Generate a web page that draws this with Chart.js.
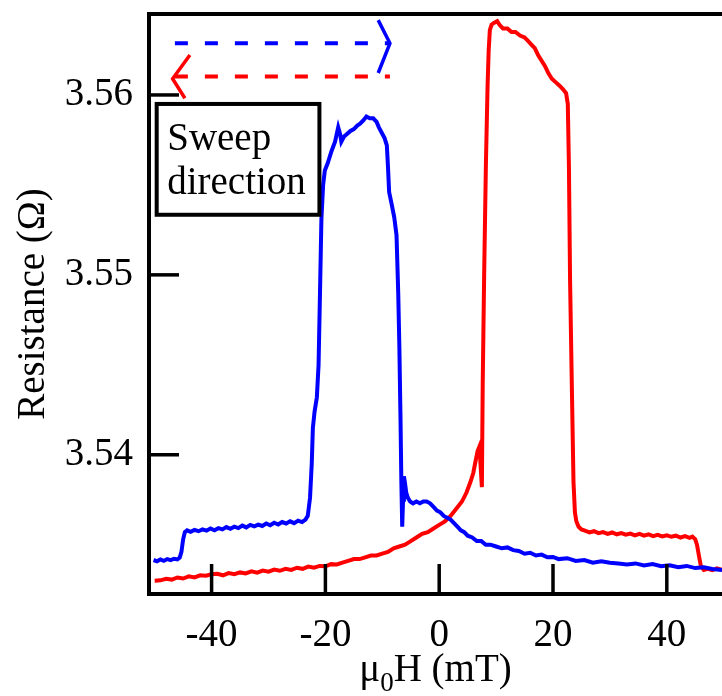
<!DOCTYPE html>
<html><head><meta charset="utf-8">
<script src="https://cdn.jsdelivr.net/npm/chart.js@4.4.1/dist/chart.umd.min.js"></script>
<style>html,body{margin:0;padding:0;background:#fff;overflow:hidden}</style>
</head><body>
<canvas id="c" width="722" height="696"></canvas>
<script>
// ---- data ----
const blueField = [-50.2,-49.6,-49.0,-48.4,-47.8,-47.2,-46.6,-46.0,-45.6,-45.3,-45.0,-44.7,-44.3,-43.7,-43.0,-42.3,-41.6,-40.9,-40.2,-39.5,-38.8,-38.1,-37.4,-36.7,-36.0,-35.3,-34.6,-33.9,-33.2,-32.5,-31.8,-31.1,-30.4,-29.7,-29.0,-28.3,-27.6,-26.9,-26.2,-25.5,-24.8,-24.1,-23.5,-23.1,-22.7,-22.4,-22.2,-21.9,-21.5,-21.2,-20.95,-20.7,-20.4,-20.1,-19.6,-18.9,-18.3,-17.75,-17.4,-17.2,-16.7,-16.3,-15.6,-15.0,-14.4,-13.9,-13.3,-12.8,-12.2,-11.6,-11.0,-10.6,-10.1,-9.6,-9.2,-9.0,-8.8,-8.4,-7.9,-7.5,-7.2,-7.0,-6.8,-6.65,-6.5,-6.35,-6.2,-6.0,-5.8,-5.5,-5.1,-4.6,-4.0,-3.4,-2.8,-2.2,-1.6,-1.0,-0.4,0.2,0.8,1.4,2.0,2.6,3.2,3.8,4.4,5.0,5.8,6.6,7.4,8.2,9.0,10,11,12,13,14,15,16,17,18,19,20,21,22.5,24,25.5,27,28.5,30,31.5,33,34.5,36,37.5,39,40.5,42,43.5,45,46.5,48,49.7];
const blueRes = [3.53415,3.53408,3.53418,3.53410,3.53420,3.53414,3.53422,3.53418,3.53428,3.53460,3.53530,3.53570,3.53580,3.53572,3.53582,3.53575,3.53585,3.53578,3.53590,3.53580,3.53592,3.53585,3.53598,3.53588,3.53600,3.53592,3.53606,3.53596,3.53610,3.53602,3.53612,3.53604,3.53618,3.53608,3.53622,3.53612,3.53626,3.53618,3.53630,3.53620,3.53634,3.53626,3.53640,3.5366,3.5376,3.5395,3.5415,3.5424,3.5432,3.5450,3.5490,3.5531,3.5550,3.5558,3.5562,3.5569,3.5574,3.5582,3.5578,3.5574,3.5577,3.5578,3.5580,3.5581,3.5583,3.5584,3.5586,3.5588,3.5587,3.5587,3.5585,3.5582,3.5579,3.5576,3.5572,3.5560,3.5546,3.5540,3.5532,3.5522,3.5490,3.5460,3.5420,3.5385,3.5360,3.5375,3.5388,3.5384,3.5379,3.5376,3.5374,3.5373,3.5374,3.5373,3.5374,3.5374,3.5373,3.5371,3.5369,3.5368,3.5366,3.5365,3.5364,3.5362,3.5360,3.5358,3.5357,3.5355,3.5354,3.5352,3.5352,3.5350,3.5350,3.5349,3.5348,3.53485,3.5347,3.53465,3.5345,3.53455,3.5344,3.53445,3.5343,3.53432,3.5342,3.53425,3.5341,3.53415,3.5340,3.53408,3.5340,3.53395,3.5339,3.53396,3.53385,3.53392,3.5338,3.53386,3.53375,3.53382,3.5337,3.53374,3.53365,3.5336];

const redField = [49.7,48.8,48.0,47.2,46.5,46.0,45.7,45.3,45.0,44.5,44.0,43.2,42.4,41.6,40.8,40.0,39.2,38.4,37.6,36.8,36.0,35.2,34.4,33.6,32.8,32.0,31.2,30.4,29.6,28.8,28.0,27.2,26.4,25.6,25.0,24.5,24.1,23.85,23.6,23.3,23.0,22.8,22.6,22.3,21.8,21.2,20.5,19.8,19.2,18.6,18.0,17.4,16.8,16.2,15.6,15.0,14.2,13.4,12.7,12.0,11.2,10.6,10.2,9.6,9.2,8.9,8.7,8.5,8.2,7.9,7.65,7.5,7.2,7.0,6.75,6.3,6.0,5.5,4.8,4.0,3.0,2.0,1.0,0,-1,-2,-3,-4,-5,-6,-7,-8,-9,-10,-11,-12,-13,-14,-15,-16,-17,-18,-19,-20,-21,-22,-23,-24,-25,-26,-27,-28,-29,-30,-31,-32,-33,-34,-35,-36,-37,-38,-39,-40,-41,-42,-43,-44,-45,-46,-47,-48,-49,-50];
const redRes = [3.53360,3.53368,3.53358,3.53366,3.53360,3.5338,3.5343,3.5350,3.5353,3.53545,3.53538,3.53548,3.53540,3.53550,3.53544,3.53552,3.53546,3.53555,3.53548,3.53558,3.53550,3.53560,3.53552,3.53562,3.53556,3.53565,3.53558,3.53568,3.53560,3.53570,3.53564,3.53575,3.53568,3.53578,3.53585,3.5360,3.5363,3.5368,3.5385,3.5440,3.5497,3.5560,3.5595,3.5601,3.5603,3.5605,3.5607,3.5609,3.5612,3.5616,3.5619,3.5622,3.5626,3.5628,3.5630,3.5632,3.5633,3.5635,3.5635,3.5637,3.5637,3.5639,3.5641,3.5640,3.5639,3.5636,3.5625,3.5605,3.5560,3.5500,3.5440,3.5382,3.5398,3.5404,3.5402,3.5395,3.5390,3.5385,3.5379,3.5374,3.5370,3.5366,3.5363,3.5361,3.5359,3.5357,3.5356,3.5354,3.5352,3.5350,3.5349,3.5348,3.5346,3.5345,3.5344,3.5344,3.5343,3.5342,3.5342,3.5341,3.5340,3.5339,3.53392,3.5338,3.53382,3.53372,3.53378,3.53366,3.53372,3.5336,3.53366,3.53355,3.53362,3.5335,3.53356,3.53345,3.53352,3.5334,3.53346,3.53336,3.53342,3.5333,3.53338,3.53336,3.53328,3.5333,3.53318,3.53324,3.53312,3.53318,3.53306,3.5331,3.53302,3.5330];

const xTicks = [-40, -20, 0, 20, 40];
const yTicks = [3.54, 3.55, 3.56];
const xTitleParts = ['\u03bc', '0', 'H (mT)'];
const yTitle = 'Resistance (\u03a9)';
const noteLines = ['Sweep', 'direction'];

const SERIF = "'Liberation Serif','Times New Roman',serif";
const FS = 39;
const toPts = (xs, ys) => xs.map((x, i) => ({x: x, y: ys[i]}));

const decor = {
  id: 'decor',
  afterDatasetsDraw(chart) {
    const {ctx, chartArea: a, scales: {x, y}} = chart;
    const X = v => x.getPixelForValue(v), Y = v => y.getPixelForValue(v);
    ctx.save();
    // top frame line
    ctx.strokeStyle = '#000'; ctx.lineWidth = 4;
    ctx.beginPath(); ctx.moveTo(a.left - 2, a.top); ctx.lineTo(a.right, a.top); ctx.stroke();
    // inward ticks
    ctx.lineWidth = 3.5;
    xTicks.forEach(v => { ctx.beginPath(); ctx.moveTo(X(v), a.bottom); ctx.lineTo(X(v), a.bottom - 30); ctx.stroke(); });
    yTicks.forEach(v => { ctx.beginPath(); ctx.moveTo(a.left, Y(v)); ctx.lineTo(a.left + 30, Y(v)); ctx.stroke(); });

    // sweep-direction note box
    ctx.lineWidth = 4;
    ctx.strokeRect(X(-49.65), Y(3.5595), X(-21.05) - X(-49.65), Y(3.55334) - Y(3.5595));
    ctx.fillStyle = '#000';
    ctx.font = FS + 'px ' + SERIF;
    ctx.textAlign = 'left'; ctx.textBaseline = 'alphabetic';
    ctx.fillText(noteLines[0], X(-47.8), Y(3.55694));
    ctx.fillText(noteLines[1], X(-47.8), Y(3.55450));

    // dashed arrows
    ctx.lineWidth = 4; ctx.lineCap = 'butt';
    ctx.setLineDash([13, 17]);
    ctx.strokeStyle = '#0000ff';
    ctx.beginPath(); ctx.moveTo(X(-46.45), Y(3.56287)); ctx.lineTo(X(-8.66), Y(3.56287)); ctx.stroke();
    ctx.strokeStyle = '#ff0000';
    ctx.beginPath(); ctx.moveTo(X(-46.45), Y(3.56102)); ctx.lineTo(X(-8.66), Y(3.56102)); ctx.stroke();
    ctx.setLineDash([]);
    ctx.lineWidth = 3.5;
    ctx.strokeStyle = '#0000ff';
    ctx.beginPath(); ctx.moveTo(X(-10.72), Y(3.56416)); ctx.lineTo(X(-8.66), Y(3.56287)); ctx.lineTo(X(-10.72), Y(3.56122)); ctx.stroke();
    ctx.strokeStyle = '#ff0000';
    ctx.beginPath(); ctx.moveTo(X(-43.81), Y(3.56222)); ctx.lineTo(X(-46.85), Y(3.56090)); ctx.lineTo(X(-44.69), Y(3.55982)); ctx.stroke();

    // axis titles
    ctx.fillStyle = '#000';
    const cx = (a.left + a.right) / 2;
    ctx.font = FS + 'px ' + SERIF;
    const w0 = ctx.measureText(xTitleParts[0]).width;
    const w2 = ctx.measureText(xTitleParts[2]).width;
    ctx.font = '27px ' + SERIF;
    const w1 = ctx.measureText(xTitleParts[1]).width;
    let sx = cx - (w0 + w1 + w2) / 2;
    const by = 681;
    ctx.font = FS + 'px ' + SERIF; ctx.fillText(xTitleParts[0], sx, by); sx += w0;
    ctx.font = '27px ' + SERIF; ctx.fillText(xTitleParts[1], sx, by + 10); sx += w1;
    ctx.font = FS + 'px ' + SERIF; ctx.fillText(xTitleParts[2], sx, by);

    ctx.translate(43.5, (a.top + a.bottom) / 2);
    ctx.rotate(-Math.PI / 2);
    ctx.textAlign = 'center';
    ctx.fillText(yTitle, 0, 0);
    ctx.restore();
  }
};

new Chart(document.getElementById('c'), {
  type: 'line',
  data: {
    datasets: [
      {data: toPts(blueField, blueRes), borderColor: '#0000ff', borderWidth: 4, pointRadius: 0, fill: false, tension: 0},
      {data: toPts(redField, redRes), borderColor: '#ff0000', borderWidth: 4, pointRadius: 0, fill: false, tension: 0}
    ]
  },
  options: {
    responsive: false, animation: false, devicePixelRatio: 1,
    layout: {padding: {top: 14, right: 0, left: 0, bottom: 0}},
    plugins: {legend: {display: false}, tooltip: {enabled: false}},
    scales: {
      x: {
        type: 'linear', min: -51, max: 49.7,
        afterBuildTicks: s => { s.ticks = xTicks.map(v => ({value: v})); },
        afterFit: s => { s.height = 102; s.paddingLeft = 0; s.paddingRight = 0; },
        grid: {display: false, drawTicks: false},
        border: {display: true, color: '#000', width: 4},
        ticks: {color: '#000', font: {family: SERIF, size: FS}, padding: 18, maxRotation: 0, autoSkip: false}
      },
      y: {
        type: 'linear', min: 3.53226, max: 3.5645,
        afterBuildTicks: s => { s.ticks = yTicks.map(v => ({value: v})); },
        afterFit: s => { s.width = 149; s.paddingTop = 0; s.paddingBottom = 0; },
        grid: {display: false, drawTicks: false},
        border: {display: true, color: '#000', width: 4},
        ticks: {color: '#000', font: {family: SERIF, size: FS}, padding: 16, autoSkip: false,
                callback: v => v.toFixed(2)}
      }
    }
  },
  plugins: [decor]
});
</script>
</body></html>
